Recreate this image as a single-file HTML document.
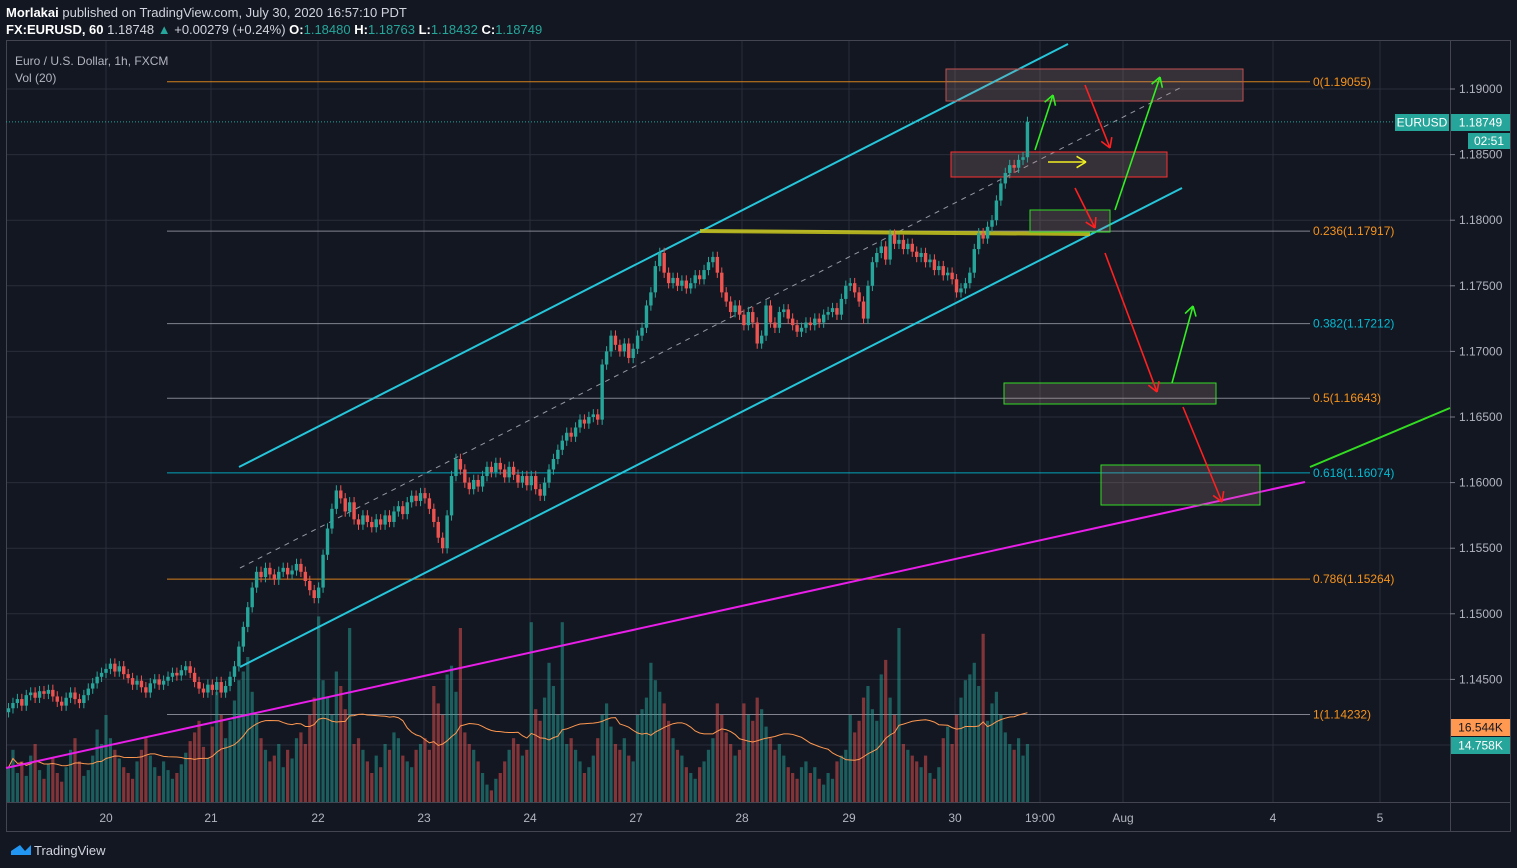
<!DOCTYPE html>
<html><head><meta charset="utf-8">
<style>
html,body{margin:0;padding:0;background:#131722;width:1517px;height:868px;overflow:hidden;font-family:"Liberation Sans",sans-serif;}
#hdr{position:absolute;left:6px;top:4px;color:#d1d4dc;font-size:13px;line-height:17px;}
#hdr b{color:#fff}
.g{color:#26a69a}
svg{position:absolute;left:0;top:0}
</style></head><body>
<div id="hdr">
<div><b>Morlakai</b> published on TradingView.com, July 30, 2020 16:57:10 PDT</div>
<div><b>FX:EURUSD, 60</b> 1.18748 <span class="g">▲</span> +0.00279 (+0.24%) <b>O:</b><span class="g">1.18480</span> <b>H:</b><span class="g">1.18763</span> <b>L:</b><span class="g">1.18432</span> <b>C:</b><span class="g">1.18749</span></div>
</div>
<svg id="c" width="1517" height="868"></svg>
<script>
const closes=[
1.1428,1.1432,1.1435,1.1430,1.1438,1.1440,1.1436,1.1441,1.1439,1.1442,1.1437,1.1433,1.1430,1.1436,1.1440,1.1435,1.1432,1.1438,1.1443,1.1447,1.1452,1.1455,
1.1458,1.1462,1.1456,1.1460,1.1454,1.1451,1.1446,1.1449,1.1444,1.1440,1.1447,1.1450,1.1446,1.1449,1.1452,1.1455,1.1453,1.1457,1.1460,1.1455,1.1448,1.1443,1.1440,1.1446,
1.1442,1.1448,1.1440,1.1445,1.1452,1.1460,1.1475,1.1490,1.1505,1.1520,1.1532,1.1528,1.1535,1.1530,1.1526,1.1532,1.1535,1.1530,1.1533,1.1538,1.1532,1.1525,1.1518,1.1512,
1.1520,1.1545,1.1565,1.1580,1.1594,1.1588,1.1578,1.1585,1.1572,1.1568,1.1575,1.1570,1.1566,1.1572,1.1568,1.1575,1.1570,1.1578,1.1582,1.1576,1.1585,1.1590,1.1586,1.1592,
1.1588,1.1580,1.1570,1.1558,1.1550,1.1575,1.1605,1.1618,1.1610,1.1600,1.1595,1.1602,1.1597,1.1605,1.1612,1.1608,1.1615,1.1610,1.1604,1.1612,1.1606,1.1600,1.1605,1.1598,
1.1605,1.1595,1.1590,1.1600,1.1610,1.1618,1.1625,1.1632,1.1638,1.1635,1.1642,1.1648,1.1645,1.1650,1.1652,1.1648,1.1690,1.1700,1.1712,1.1705,1.1700,1.1706,1.1695,1.1702,
1.1712,1.1718,1.1735,1.1745,1.1765,1.1775,1.1760,1.1752,1.1756,1.1750,1.1754,1.1748,1.1752,1.1758,1.1755,1.1762,1.1768,1.1772,1.1760,1.1745,1.1738,1.1730,1.1735,1.1728,
1.1720,1.1730,1.1722,1.1706,1.1712,1.1735,1.1722,1.1718,1.1730,1.1732,1.1725,1.1720,1.1715,1.1718,1.1722,1.1720,1.1725,1.1722,1.1728,1.1730,1.1733,1.1728,1.1740,1.1750,
1.1752,1.1745,1.1738,1.1725,1.1750,1.1768,1.1775,1.1780,1.1770,1.1789,1.1782,1.1785,1.1778,1.1782,1.1776,1.1772,1.1775,1.1768,1.1770,1.1762,1.1765,1.1758,1.1760,1.1755,
1.1745,1.1748,1.1752,1.1760,1.1778,1.1790,1.1786,1.1795,1.1800,1.1815,1.1828,1.1836,1.1842,1.1840,1.1846,1.1848,1.18749];
const volumes=[
12,18,10,14,9,16,20,11,8,13,15,10,7,12,18,22,14,9,11,16,25,20,
30,22,18,15,12,10,8,14,18,22,16,12,9,14,11,8,10,13,17,21,24,28,19,15,
26,38,30,22,28,35,42,45,50,38,30,22,18,14,16,20,12,18,15,22,24,20,30,36,
64,42,36,30,45,40,32,60,20,22,18,14,10,16,12,20,18,24,22,16,14,12,18,20,
22,18,40,34,30,44,47,38,60,24,20,18,14,10,6,4,8,10,14,18,22,20,16,18,
62,32,28,36,48,40,30,62,20,22,18,14,10,12,16,22,30,34,26,20,18,22,16,14,
30,32,36,48,42,38,34,28,22,18,16,12,10,8,12,14,18,22,34,30,24,20,16,18,
34,30,28,36,32,26,22,18,20,16,12,10,8,12,14,10,12,8,6,10,8,14,16,18,
30,24,28,36,40,32,28,44,49,36,30,60,20,18,16,14,12,16,10,8,12,22,26,20,
30,36,42,44,48,40,58,28,34,38,30,24,20,18,22,16,20];
const priceTicks=[1.190,1.185,1.180,1.175,1.170,1.165,1.160,1.155,1.150,1.145];
const timeLabels=["20","21","22","23","24","27","28","29","30","19:00","Aug","4","5"];
const timeLabelX=[106,211,318,424,530,636,742,849,955,1040,1123,1273,1380];
const fibRatios=["0","0.236","0.382","0.5","0.618","0.786","1"];
const fibPrices=[1.19055,1.17917,1.17212,1.16643,1.16074,1.15264,1.14232];

const NS="http://www.w3.org/2000/svg";
const svg=document.getElementById('c');
function el(t,a,p){const e=document.createElementNS(NS,t);for(const k in a)e.setAttribute(k,a[k]);(p||svg).appendChild(e);return e;}
const y=p=>89+(1.19-p)/0.005*65.6;
const x=i=>106+(i-22)*4.43;
const vy=v=>802-v*2.9;

const grid=el('g',{});


timeLabelX.forEach(gx=>el('line',{x1:gx,x2:gx,y1:40,y2:802,stroke:'#2a2e39','stroke-width':1},grid));
priceTicks.concat([1.14]).forEach(p=>el('line',{x1:6,x2:1450,y1:y(p),y2:y(p),stroke:'#2a2e39','stroke-width':1},grid));
el('rect',{x:6.5,y:40.5,width:1504,height:791,fill:'none',stroke:'#434651'});
el('line',{x1:1450.5,x2:1450.5,y1:40,y2:831,stroke:'#434651'});
el('line',{x1:6,x2:1510,y1:802.5,y2:802.5,stroke:'#434651'});

priceTicks.forEach(p=>{
 const t=el('text',{x:1459,y:y(p)+4,fill:'#b2b5be','font-size':12});t.textContent=p.toFixed(5);
 
 
 el('line',{x1:1450,x2:1455,y1:y(p),y2:y(p),stroke:'#787b86'});
});
timeLabels.forEach((s,i)=>{
 const t=el('text',{x:timeLabelX[i],y:822,fill:'#b2b5be','font-size':12,'text-anchor':'middle'});t.textContent=s;
 
 
});

const fibLine=['#f7931a','#9598a1','#9598a1','#9598a1','#00bcd4','#f7931a','#9598a1'];
const fibText=['#f7931a','#f7931a','#00bcd4','#f7931a','#00bcd4','#f7931a','#f7931a'];
fibPrices.forEach((p,i)=>{
 const l=el('line',{x1:167,x2:1310,y1:y(p),y2:y(p),stroke:fibLine[i],'stroke-width':1,opacity:0.85});
 
 
 const t=el('text',{x:1313,y:y(p)+4,fill:fibText[i],'font-size':12});t.textContent=fibRatios[i]+'('+p.toFixed(5)+')';
 
 
});

const vg=el('g',{});


volumes.forEach((v,i)=>{
 const o=i?closes[i-1]:closes[0];const up=closes[i]>=o;
 const b=el('rect',{x:x(i)-1.6,y:vy(v),width:3.2,height:802-vy(v),fill:up?'#26a69a':'#ef5350',opacity:0.5},vg);
 
 
});
let ma='';
volumes.forEach((v,i)=>{const s=volumes.slice(Math.max(0,i-19),i+1);const m=s.reduce((a,b)=>a+b,0)/s.length;ma+=(i?'L':'M')+x(i)+' '+vy(m);});
const mal=el('path',{d:ma,fill:'none',stroke:'#ff9850','stroke-width':1});



function ln(x1,y1,x2,y2,c,w,name,extra){const l=el('line',Object.assign({x1,y1,x2,y2,stroke:c,'stroke-width':w},extra||{}));return l;}
ln(6,768,1305,482,'#e91ee9',2,'magenta-trendline');
ln(1310,467,1450,408,'#33dd22',2,'green-trendline');
ln(239,467,1068,44,'#26c6da',2,'channel-upper');
ln(240,667,1182,188,'#26c6da',2,'channel-lower');
ln(240,568,1180,88,'#9598a1',1,'channel-mid',{'stroke-dasharray':'5 5'});
ln(700,231,1090,234,'#c8c81e',4,'yellow-support-line',{opacity:0.85});
function box(x1,y1,x2,y2,c,name){const r=el('rect',{x:x1,y:y1,width:x2-x1,height:y2-y1,fill:'rgba(180,140,140,0.22)',stroke:c,'stroke-width':1});}
box(946,69,1243,101,'#c0504d','target-zone-box');
box(951,152,1167,177,'#ff3030','resistance-box');
box(1030,210,1110,232,'#33dd22','retest-box');
box(1004,383,1216,404,'#33dd22','fib-05-box');
box(1101,465,1260,505,'#33dd22','fib-0618-box');
function arrow(x1,y1,x2,y2,c,name){const g=el('g',{});
 el('line',{x1,y1,x2,y2,stroke:c,'stroke-width':1.6},g);
 const a=Math.atan2(y2-y1,x2-x1),L=11;
 [a+2.6,a-2.6].forEach(b=>el('line',{x1:x2,y1:y2,x2:x2+L*Math.cos(b),y2:y2+L*Math.sin(b),stroke:c,'stroke-width':1.6},g));}
arrow(1035,150,1053,95,'#33ee22','arrow-up-1');
arrow(1085,85,1110,148,'#ff2020','arrow-down-1');
arrow(1048,162,1086,162,'#f0f020','arrow-right');
arrow(1075,188,1095,228,'#ff2020','arrow-down-2');
arrow(1115,210,1160,77,'#33ee22','arrow-up-2');
arrow(1105,253,1157,392,'#ff2020','arrow-down-3');
arrow(1172,383,1193,306,'#33ee22','arrow-up-3');
arrow(1183,407,1222,502,'#ff2020','arrow-down-4');

const cg=el('g',{});


closes.forEach((c,i)=>{
 const o=i?closes[i-1]:c-0.0003;const up=c>=o;const col=up?'#26a69a':'#ef5350';
 const hi=Math.max(o,c)+0.0004,lo=Math.min(o,c)-0.0004;
 el('line',{x1:x(i),x2:x(i),y1:y(hi),y2:y(lo),stroke:col,'stroke-width':1},cg);
 const r=el('rect',{x:x(i)-1.7,y:y(Math.max(o,c)),width:3.4,height:Math.max(1,Math.abs(y(o)-y(c))),fill:col},cg);
 
 
});

const lp=closes[closes.length-1];
el('line',{x1:6,x2:1395,y1:y(lp),y2:y(lp),stroke:'#26a69a','stroke-width':1,'stroke-dasharray':'1 2'});
function tag(x0,y0,w,h,fill,txt,tc,name){const g=el('g',{});
 el('rect',{x:x0,y:y0,width:w,height:h,fill},g);const t=el('text',{x:x0+w/2,y:y0+h/2+4,fill:tc,'font-size':12,'text-anchor':'middle'},g);t.textContent=txt;}
tag(1395,114,54,17,'#26a69a','EURUSD','#fff','symbol-tag');
tag(1451,114,59,17,'#26a69a',lp.toFixed(5),'#fff','last-price-tag');
tag(1468,133,42,16,'#26a69a','02:51','#fff','countdown-tag');
tag(1451,719,59,17,'#ff9850','16.544K','#131722','volume-ma-tag');
tag(1451,737,59,17,'#26a69a','14.758K','#fff','volume-tag');

const t1=el('text',{x:15,y:65,fill:'#b2b5be','font-size':12});t1.textContent='Euro / U.S. Dollar, 1h, FXCM';


const t2=el('text',{x:15,y:82,fill:'#b2b5be','font-size':12});t2.textContent='Vol (20)';



const lg=el('g',{});
el('path',{d:'M11 851 L20 845 L25 851 L31 845 L31 855 L11 855 Z',fill:'#2196f3'},lg);
const lt=el('text',{x:34,y:855,fill:'#d1d4dc','font-size':13},lg);lt.textContent='TradingView';
</script>
</body></html>
